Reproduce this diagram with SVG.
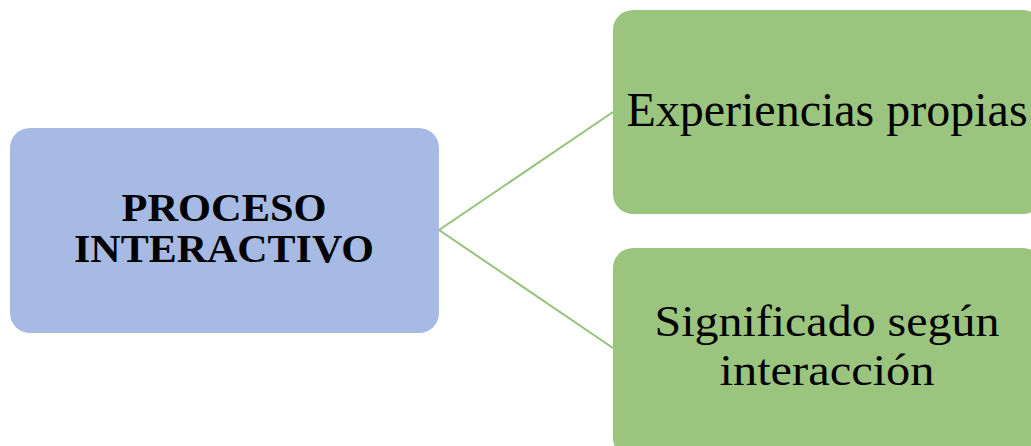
<svg xmlns="http://www.w3.org/2000/svg" width="1031" height="446" viewBox="0 0 1031 446">
<style>
.blue{fill:#a7bae3}
.green{fill:#9bc47f}
.conn{stroke:#93c278;stroke-width:2;fill:none}
.t{font-family:"Liberation Serif","Times New Roman",serif;fill:#000;text-anchor:middle}
.b{font-weight:bold;font-size:40px}
.r{font-size:48px}
.r2{font-size:44px}
</style>
<rect width="1031" height="446" fill="#fff"/>
<g id="connectors">
<line class="conn" x1="439" y1="230" x2="613" y2="112"/>
<line class="conn" x1="439" y1="230" x2="613" y2="348"/>
</g>
<g id="node-proceso">
<rect class="blue" x="10" y="128" width="429" height="205" rx="20"/>
<text class="t b" x="224" y="221" textLength="205" lengthAdjust="spacingAndGlyphs">PROCESO</text>
<text class="t b" x="224" y="262" textLength="300" lengthAdjust="spacingAndGlyphs">INTERACTIVO</text>
</g>
<g id="node-experiencias">
<rect class="green" x="613" y="10" width="430" height="204" rx="20"/>
<text class="t r" x="827" y="126">Experiencias propias</text>
</g>
<g id="node-significado">
<rect class="green" x="613" y="248" width="430" height="210" rx="20"/>
<text class="t r2" x="827" y="336" textLength="345" lengthAdjust="spacingAndGlyphs">Significado según</text>
<text class="t r2" x="827" y="385" textLength="215" lengthAdjust="spacingAndGlyphs">interacción</text>
</g>
</svg>
